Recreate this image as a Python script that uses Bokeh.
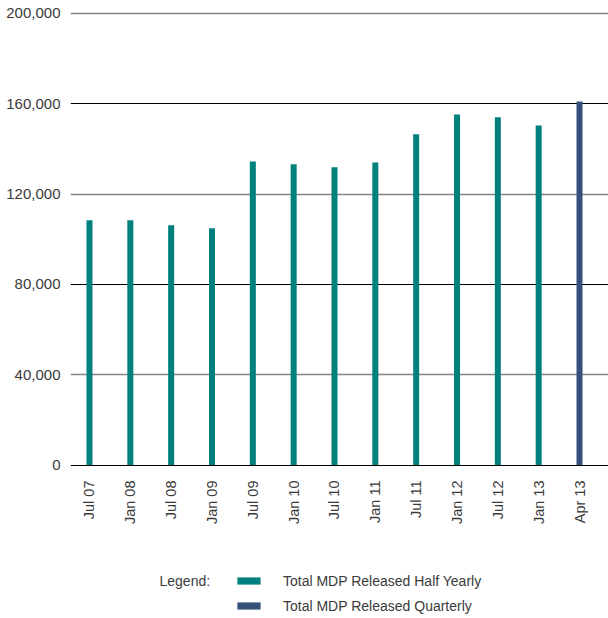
import math
from bokeh.plotting import figure
from bokeh.layouts import column
from bokeh.models import (FixedTicker, NumeralTickFormatter, Grid, Legend, LegendItem,
                          Label, ColumnDataSource, Range1d)
from bokeh.embed import file_html
from bokeh.resources import INLINE

periods = ["Jul 07", "Jan 08", "Jul 08", "Jan 09", "Jul 09", "Jan 10", "Jul 10",
           "Jan 11", "Jul 11", "Jan 12", "Jul 12", "Jan 13", "Apr 13"]
half_yearly_periods = ["Jul 07", "Jan 08", "Jul 08", "Jan 09", "Jul 09", "Jan 10", "Jul 10",
                       "Jan 11", "Jul 11", "Jan 12", "Jul 12", "Jan 13"]
half_yearly_values = [108400, 108400, 106200, 104900, 134500, 133200, 131900,
                      134000, 146500, 155300, 154000, 150400]
quarterly_periods = ["Apr 13"]
quarterly_values = [161000]
y_ticks_dark = [0, 80000, 160000]
y_ticks_light = [40000, 120000, 200000]
legend_labels = ["Total MDP Released Half Yearly", "Total MDP Released Quarterly"]

FONT = "Liberation Sans"
TXT = "#3a3a3a"
TEAL = "#00817d"
NAVY = "#36507a"

src_h = ColumnDataSource(dict(x=[periods.index(p_) for p_ in half_yearly_periods],
                              top=half_yearly_values))
src_q = ColumnDataSource(dict(x=[periods.index(p_) for p_ in quarterly_periods],
                              top=quarterly_values))

p = figure(width=608, height=560, output_backend="svg", toolbar_location=None,
           x_range=Range1d(-0.465, 12.71), y_range=Range1d(-1500, 202200),
           min_border_left=70, min_border_right=0, min_border_top=8, min_border_bottom=92)
p.outline_line_color = None
p.xgrid.visible = False
p.ygrid.visible = False

g1 = Grid(dimension=1, ticker=FixedTicker(ticks=y_ticks_light),
          grid_line_color="#858585", grid_line_width=1.4)
g2 = Grid(dimension=1, ticker=FixedTicker(ticks=y_ticks_dark),
          grid_line_color="#000000", grid_line_width=1.1)
p.add_layout(g1)
p.add_layout(g2)

r1 = p.vbar(x="x", top="top", width=0.147, source=src_h, fill_color=TEAL, line_color=None)
r2 = p.vbar(x="x", top="top", width=0.147, source=src_q, fill_color=NAVY, line_color=None)

yax = p.yaxis[0]
yax.ticker = FixedTicker(ticks=y_ticks_dark + y_ticks_light)
yax.formatter = NumeralTickFormatter(format="0,0")
yax.axis_line_color = None
yax.major_tick_line_color = None
yax.minor_tick_line_color = None
yax.major_tick_out = 0
yax.major_tick_in = 0
yax.major_label_standoff = 10
yax.major_label_text_font = FONT
yax.major_label_text_font_size = "15px"
yax.major_label_text_color = TXT

xax = p.xaxis[0]
xax.ticker = FixedTicker(ticks=list(range(len(periods))))
xax.major_label_overrides = {i: lab for i, lab in enumerate(periods)}
xax.axis_line_color = None
xax.major_tick_line_color = None
xax.minor_tick_line_color = None
xax.major_tick_out = 0
xax.major_tick_in = 0
xax.major_label_standoff = 12
xax.major_label_orientation = math.pi / 2
xax.major_label_text_font = FONT
xax.major_label_text_font_size = "14.5px"
xax.major_label_text_color = TXT

# legend panel underneath the chart (its frame is aligned with the chart's frame)
q = figure(width=608, height=58, output_backend="svg", toolbar_location=None,
           x_range=Range1d(0, 538), y_range=Range1d(0, 58),
           x_axis_location=None, y_axis_location=None,
           min_border=0)
q.outline_line_color = None
q.xgrid.visible = False
q.ygrid.visible = False
k1 = q.vbar(x="x", top="top", width=0.147, source=src_h, fill_color=TEAL, line_color=None,
            visible=False)
k2 = q.vbar(x="x", top="top", width=0.147, source=src_q, fill_color=NAVY, line_color=None,
            visible=False)

legend = Legend(items=[LegendItem(label=legend_labels[0], renderers=[k1]),
                       LegendItem(label=legend_labels[1], renderers=[k2])],
                location=(164, 1.5), orientation="vertical",
                glyph_width=29, glyph_height=9, label_height=22, spacing=3,
                label_standoff=20, padding=0, margin=0,
                border_line_color=None, background_fill_alpha=0,
                inactive_fill_alpha=0,
                label_text_font=FONT, label_text_font_size="14px", label_text_color=TXT)
q.add_layout(legend)

q.add_layout(Label(x=89, y=37.5, x_units="screen", y_units="screen", text="Legend:",
                   text_font=FONT, text_font_size="14px", text_color=TXT,
                   text_baseline="middle", text_align="left"))

layout = column(p, q, spacing=0)
open("out.html", "w").write(file_html(layout, INLINE))
